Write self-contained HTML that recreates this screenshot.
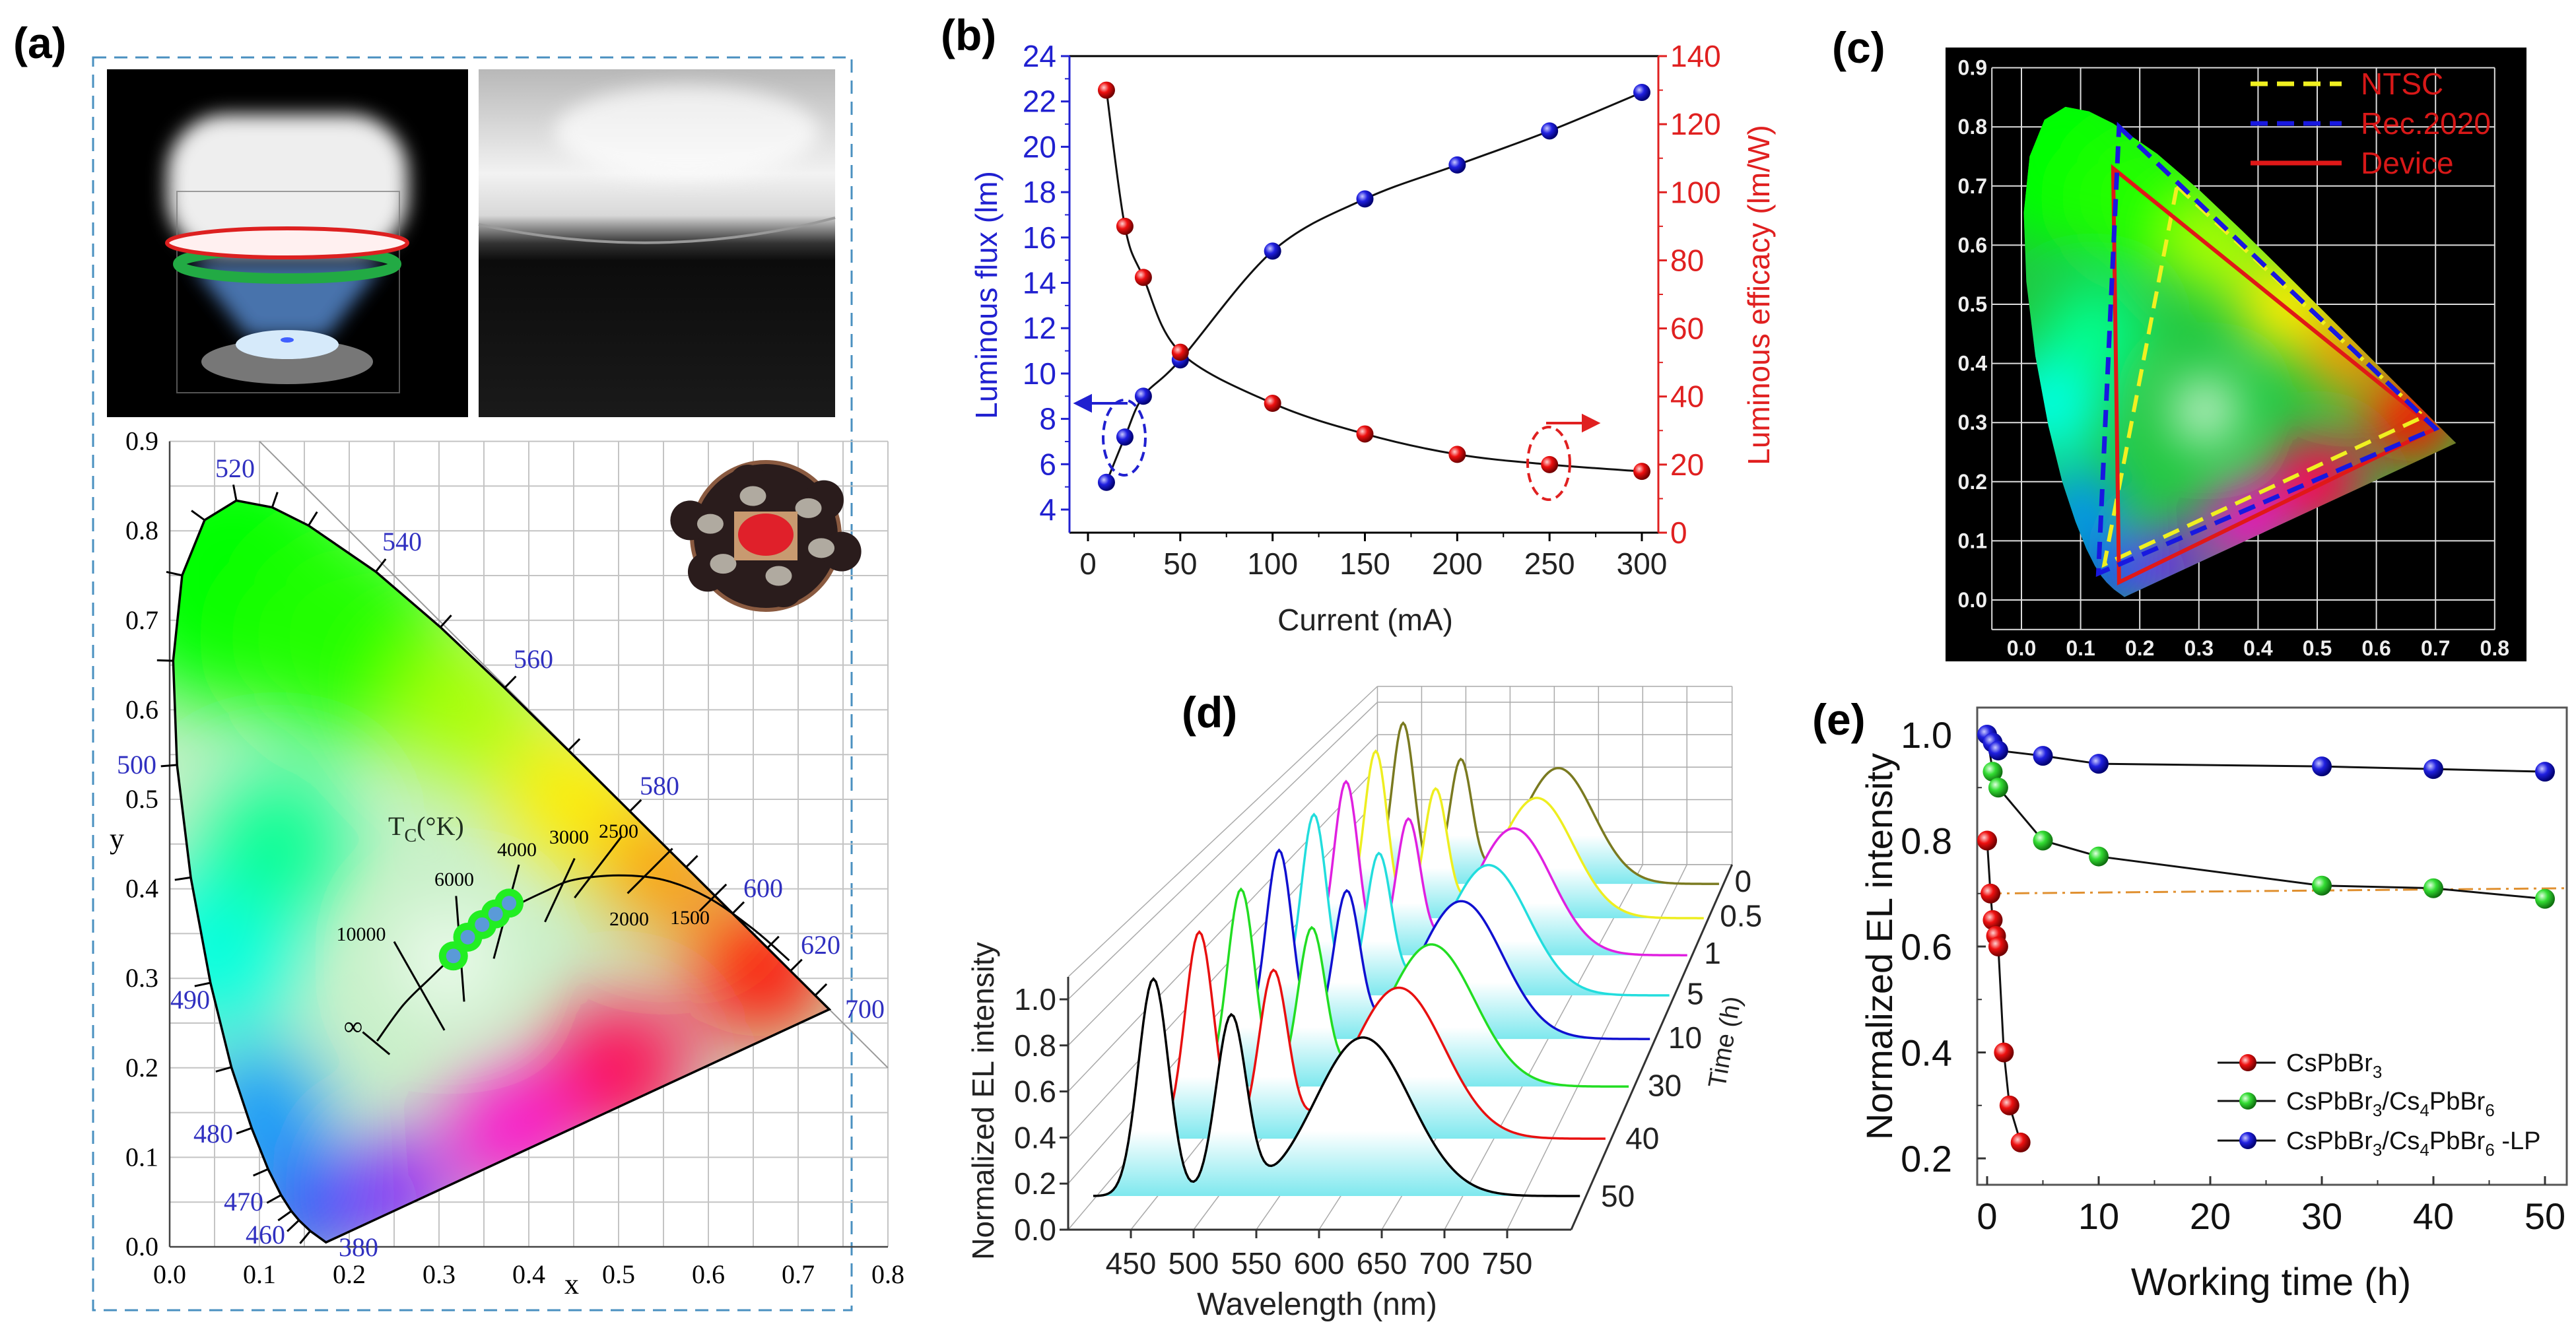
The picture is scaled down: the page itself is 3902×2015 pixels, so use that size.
<!DOCTYPE html>
<html><head><meta charset="utf-8">
<style>
html,body{margin:0;padding:0;background:#fff;}
svg{display:block;}
text{font-family:"Liberation Sans",sans-serif;}
.serif{font-family:"Liberation Serif",serif;}
.narrow{font-family:"Liberation Sans Narrow","Liberation Sans",sans-serif;font-weight:bold;}
</style></head>
<body>
<svg id="fig" xmlns="http://www.w3.org/2000/svg" width="3902" height="2015" viewBox="0 0 3902 2015">
<defs>
<radialGradient id="sBlue" cx="35%" cy="35%" r="65%"><stop offset="0" stop-color="#c8c8ff"/><stop offset="0.45" stop-color="#2020e0"/><stop offset="1" stop-color="#000070"/></radialGradient>
<radialGradient id="sRed" cx="35%" cy="35%" r="65%"><stop offset="0" stop-color="#ffd0d0"/><stop offset="0.45" stop-color="#ee1010"/><stop offset="1" stop-color="#700000"/></radialGradient>
<radialGradient id="sGreen" cx="35%" cy="35%" r="65%"><stop offset="0" stop-color="#e0ffe0"/><stop offset="0.45" stop-color="#33dd33"/><stop offset="1" stop-color="#107010"/></radialGradient>
<linearGradient id="specFill" x1="0" y1="0" x2="0" y2="1"><stop offset="0" stop-color="#ffffff"/><stop offset="0.7" stop-color="#ffffff"/><stop offset="1" stop-color="#7ee8ee"/></linearGradient>
<filter id="blurA" x="-50%" y="-50%" width="200%" height="200%"><feGaussianBlur stdDeviation="60"/></filter>
<filter id="blurC" x="-50%" y="-50%" width="200%" height="200%"><feGaussianBlur stdDeviation="40"/></filter>
<filter id="blurS" x="-50%" y="-50%" width="200%" height="200%"><feGaussianBlur stdDeviation="14"/></filter>
<linearGradient id="photoR" x1="0" y1="0" x2="0" y2="1"><stop offset="0" stop-color="#b8b8b8"/><stop offset="0.3" stop-color="#f2f2f2"/><stop offset="0.42" stop-color="#d8d8d8"/><stop offset="0.5" stop-color="#333"/><stop offset="0.55" stop-color="#0c0c0c"/><stop offset="1" stop-color="#1a1a1a"/></linearGradient>
</defs>
</svg>
<script>
const NS='http://www.w3.org/2000/svg';
const svg=document.getElementById('fig');
const defs=svg.querySelector('defs');
function mk(tag,attrs,parent){const e=document.createElementNS(NS,tag);for(const k in attrs)e.setAttribute(k,attrs[k]);(parent||svg).appendChild(e);return e;}
function txt(str,attrs,parent){const e=mk('text',attrs,parent);e.textContent=str;return e;}
function smooth(p){let d='M'+p[0][0]+','+p[0][1];for(let i=0;i<p.length-1;i++){const p0=p[i-1]||p[i],p1=p[i],p2=p[i+1],p3=p[i+2]||p2;const c1=[p1[0]+(p2[0]-p0[0])/6,p1[1]+(p2[1]-p0[1])/6],c2=[p2[0]-(p3[0]-p1[0])/6,p2[1]-(p3[1]-p1[1])/6];d+='C'+c1[0]+','+c1[1]+' '+c2[0]+','+c2[1]+' '+p2[0]+','+p2[1];}return d;}

/* ===== shared CIE data ===== */
const cieWl=[380,450,460,465,470,475,480,485,490,495,500,505,510,515,520,525,530,540,550,560,570,580,590,600,610,620,640,700];
const cieX=[0.1741,0.1566,0.1440,0.1355,0.1241,0.1096,0.0913,0.0687,0.0454,0.0235,0.0082,0.0039,0.0139,0.0389,0.0743,0.1142,0.1547,0.2296,0.3016,0.3731,0.4441,0.5125,0.5752,0.6270,0.6658,0.6915,0.7190,0.7347];
const cieY=[0.0050,0.0177,0.0297,0.0399,0.0578,0.0868,0.1327,0.2007,0.2950,0.4127,0.5384,0.6548,0.7502,0.8120,0.8338,0.8262,0.8059,0.7543,0.6923,0.6245,0.5547,0.4866,0.4242,0.3725,0.3340,0.3083,0.2809,0.2653];
const blobX=[0.07,0.2,0.33,0.45,0.55,0.66,0.5,0.38,0.25,0.15,0.1,0.05,0.12,0.31];
const blobY=[0.75,0.68,0.6,0.5,0.42,0.31,0.2,0.13,0.06,0.04,0.15,0.33,0.45,0.32];
const blobC=['#00ff00','#22ff00','#aaff00','#ffee00','#ff9900','#ff1000','#ff0050','#ff00cc','#8000ff','#0040ff','#0090ff','#00ffe0','#00ff90','#ffffff'];
const blobR=[0.15,0.12,0.08,0.08,0.07,0.08,0.08,0.07,0.06,0.06,0.07,0.09,0.08,0.05];
function locusD(X,Y){let d='';for(let i=0;i<cieWl.length;i++)d+=(i?'L':'M')+X(cieX[i])+','+Y(cieY[i]);return d+'Z';}
function paintCIE(parent,X,Y,id,filt,unit,base){
  const cp=mk('clipPath',{id:id},defs);
  mk('path',{d:locusD(X,Y)},cp);
  const g=mk('g',{'clip-path':'url(#'+id+')'},parent);
  
  
  mk('rect',{x:X(-0.1),y:Y(1),width:unit*1.1,height:unit*1.1,fill:base},g);
  const bg=mk('g',{filter:'url(#'+filt+')'},g);
  for(let i=0;i<blobX.length;i++){mk('circle',{cx:X(blobX[i]),cy:Y(blobY[i]),r:blobR[i]*unit,fill:blobC[i]},bg);}
  return g;
}

/* ===== PANEL A ===== */
const gA=mk('g',{});


let e=txt('(a)',{x:20,y:88,'font-size':66,'font-weight':'bold'},gA);


e=mk('rect',{x:141,y:87,width:1149,height:1898,fill:'none',stroke:'#4a90c0','stroke-width':3,'stroke-dasharray':'20 12'},gA);


const ph1=mk('g',{},gA);


mk('rect',{x:162,y:105,width:547,height:527,fill:'#000'},ph1);
mk('rect',{x:253,y:173,width:365,height:215,rx:90,fill:'#eeeeee',filter:'url(#blurS)'},ph1);
mk('rect',{x:268,y:290,width:337,height:305,fill:'none',stroke:'#777','stroke-width':2,opacity:0.7},ph1);
mk('path',{d:'M290,400 L580,400 L495,510 L375,510 Z',fill:'#5a90d8',opacity:0.8,filter:'url(#blurS)'},ph1);
mk('ellipse',{cx:435,cy:400,rx:165,ry:22,fill:'none',stroke:'#22aa44','stroke-width':16},ph1);
mk('ellipse',{cx:435,cy:368,rx:182,ry:22,fill:'#fff0f0',stroke:'#dd2020','stroke-width':6},ph1);
mk('ellipse',{cx:435,cy:548,rx:130,ry:34,fill:'#777'},ph1);
mk('ellipse',{cx:435,cy:522,rx:78,ry:22,fill:'#d6eafa'},ph1);
mk('ellipse',{cx:435,cy:515,rx:10,ry:4,fill:'#4060ff'},ph1);
const ph2=mk('g',{},gA);


mk('rect',{x:725,y:105,width:540,height:527,fill:'url(#photoR)'},ph2);
mk('ellipse',{cx:1040,cy:200,rx:200,ry:70,fill:'#ffffff',opacity:0.7,filter:'url(#blurS)'},ph2);
mk('path',{d:'M725,340 Q1000,400 1265,330',stroke:'#999','stroke-width':4,fill:'none'},ph2);

const ax=x=>257+x*1360, ay=y=>1889-y*1356;
const cieG=mk('g',{},gA);


for(let i=0;i<=16;i++){const v=i*0.05;const l=mk('line',{x1:ax(v),y1:ay(0),x2:ax(v),y2:ay(0.9),stroke:'#c4c4c4','stroke-width':2},cieG);}
for(let i=0;i<=18;i++){const v=i*0.05;const l=mk('line',{x1:ax(0),y1:ay(v),x2:ax(0.8),y2:ay(v),stroke:'#c4c4c4','stroke-width':2},cieG);}
e=mk('line',{x1:ax(0.1),y1:ay(0.9),x2:ax(0.8),y2:ay(0.2),stroke:'#999','stroke-width':2},cieG);


mk('line',{x1:ax(0),y1:ay(0),x2:ax(0),y2:ay(0.9),stroke:'#444','stroke-width':2.5},cieG);
mk('line',{x1:ax(0),y1:ay(0),x2:ax(0.8),y2:ay(0),stroke:'#444','stroke-width':2.5},cieG);
const aTicks=[0,0.1,0.2,0.3,0.4,0.5,0.6,0.7,0.8];
const aYTicks=[0,0.1,0.2,0.3,0.4,0.5,0.6,0.7,0.8,0.9];
aTicks.forEach(v=>{const t=txt(v.toFixed(1),{x:ax(v),y:1944,'font-size':40,'text-anchor':'middle',class:'serif'},cieG);});
aYTicks.forEach(v=>{const t=txt(v.toFixed(1),{x:240,y:ay(v)+13,'font-size':40,'text-anchor':'end',class:'serif'},cieG);});
e=txt('x',{x:866,y:1960,'font-size':44,'text-anchor':'middle',class:'serif'},cieG);


e=txt('y',{x:177,y:1285,'font-size':44,'text-anchor':'middle',class:'serif'},cieG);


paintCIE(cieG,ax,ay,'clipA','blurA',1360,'#c8f0c8');
e=mk('path',{d:locusD(ax,ay),fill:'none',stroke:'#000','stroke-width':3.5},cieG);


for(let i=1;i<cieWl.length-1;i++){const dx=cieX[i+1]-cieX[i-1],dy=cieY[i+1]-cieY[i-1];const L=Math.hypot(dx,dy);const nx=dy/L,ny=-dx/L;const t=mk('line',{x1:ax(cieX[i]),y1:ay(cieY[i]),x2:ax(cieX[i]-nx*0.018),y2:ay(cieY[i]-ny*0.018),stroke:'#000','stroke-width':3},cieG);}
const wlLabels=['520','540','560','580','600','620','700','500','490','480','470','460','380'];
const wlLabX=[356,609,808,999,1156,1243,1310,207,288,323,369,402,543];
const wlLabY=[723,834,1012,1204,1359,1445,1542,1172,1528,1731,1834,1884,1903];
wlLabels.forEach((s,i)=>{const t=txt(s,{x:wlLabX[i],y:wlLabY[i],'font-size':40,'text-anchor':'middle',fill:'#3030c0',class:'serif'},cieG);});
const plX=[0.231,0.26,0.29,0.316,0.35,0.38,0.42,0.45,0.5,0.55,0.6,0.65,0.69];
const plY=[0.23,0.27,0.30,0.325,0.355,0.378,0.398,0.41,0.415,0.41,0.39,0.355,0.32];
e=mk('path',{d:smooth(plX.map((x,i)=>[ax(x),ay(plY[i])])),fill:'none',stroke:'#000','stroke-width':3},cieG);


mk('line',{x1:ax(0.215),y1:ay(0.24),x2:ax(0.245),y2:ay(0.215),stroke:'#000','stroke-width':3},cieG);
const isoX1=[0.25,0.319,0.389,0.451,0.503,0.56,0.62],isoY1=[0.341,0.392,0.427,0.434,0.458,0.445,0.405];
const isoX2=[0.306,0.328,0.361,0.418,0.451,0.51,0.59],isoY2=[0.242,0.274,0.322,0.363,0.39,0.395,0.375];
isoX1.forEach((x,i)=>{const t=mk('line',{x1:ax(x),y1:ay(isoY1[i]),x2:ax(isoX2[i]),y2:ay(isoY2[i]),stroke:'#000','stroke-width':3},cieG);});
const tLab=['10000','6000','4000','3000','2500','2000','1500'];
const tLabX=[547,688,783,862,937,953,1045],tLabY=[1425,1342,1297,1278,1269,1402,1400];
tLab.forEach((s,i)=>{const t=txt(s,{x:tLabX[i],y:tLabY[i],'font-size':30,'text-anchor':'middle',class:'serif'},cieG);});
e=txt('∞',{x:535,y:1568,'font-size':40,'text-anchor':'middle',class:'serif'},cieG);


e=txt('',{x:588,y:1265,'font-size':40,class:'serif',fill:'#203020'},cieG);


let ts=mk('tspan',{},e);ts.textContent='T';ts=mk('tspan',{dy:10,'font-size':28},e);ts.textContent='C';ts=mk('tspan',{dy:-10},e);ts.textContent='(°K)';
const ptX=[0.316,0.332,0.348,0.363,0.378],ptY=[0.325,0.346,0.36,0.372,0.384];
ptX.forEach((x,i)=>{const c=mk('circle',{cx:ax(x),cy:ay(ptY[i]),r:22,fill:'#22ee22'},cieG);});
ptX.forEach((x,i)=>{mk('circle',{cx:ax(x),cy:ay(ptY[i]),r:11,fill:'#5a9ad8'},cieG);});
const led=mk('g',{},gA);


mk('circle',{cx:1160,cy:812,r:112,fill:'#2a1c1c',stroke:'#8a5a40','stroke-width':6},led);
for(let i=0;i<6;i++){const a=i*Math.PI/3+0.3;mk('circle',{cx:1160+Math.cos(a)*120,cy:812+Math.sin(a)*80,r:30,fill:'#2a1c1c'},led);mk('ellipse',{cx:1160+Math.cos(a)*88,cy:812+Math.sin(a)*62,rx:20,ry:15,fill:'#b0aaa0'},led);}
mk('rect',{x:1112,y:775,width:96,height:74,fill:'#c89a70'},led);
mk('ellipse',{cx:1160,cy:810,rx:42,ry:32,fill:'#e0202a'},led);

/* ===== PANEL B ===== */
const bCurrent=[10,20,30,50,100,150,200,250,300];
const bFlux=[5.2,7.2,9.0,10.6,15.4,17.7,19.2,20.7,22.4];
const bEff=[130,90,75,53,38,29,23,20,18];
const bXTicks=[0,50,100,150,200,250,300];
const bYLTicks=[4,6,8,10,12,14,16,18,20,22,24];
const bYRTicks=[0,20,40,60,80,100,120,140];
const bx=v=>1648+v*(2487-1648)/300, byL=v=>772-(v-4)*(772-85)/20, byR=v=>807-v*(807-85)/140;
const gB=mk('g',{});


e=txt('(b)',{x:1425,y:76,'font-size':66,'font-weight':'bold'},gB);


mk('line',{x1:1620,y1:85,x2:2512,y2:85,stroke:'#000','stroke-width':3},gB);
mk('line',{x1:1620,y1:807,x2:2512,y2:807,stroke:'#000','stroke-width':3},gB);
e=mk('line',{x1:1620,y1:85,x2:1620,y2:807,stroke:'#2020d0','stroke-width':3},gB);


e=mk('line',{x1:2512,y1:85,x2:2512,y2:807,stroke:'#e02020','stroke-width':3},gB);


bXTicks.forEach(v=>{mk('line',{x1:bx(v),y1:807,x2:bx(v),y2:820,stroke:'#000','stroke-width':3},gB);if(v<300)mk('line',{x1:bx(v+25),y1:807,x2:bx(v+25),y2:814,stroke:'#000','stroke-width':2},gB);const t=txt(String(v),{x:bx(v),y:870,'font-size':46,'text-anchor':'middle',fill:'#222'},gB);});
bYLTicks.forEach(v=>{mk('line',{x1:1607,y1:byL(v),x2:1620,y2:byL(v),stroke:'#2020d0','stroke-width':3},gB);if(v<24)mk('line',{x1:1613,y1:byL(v+1),x2:1620,y2:byL(v+1),stroke:'#2020d0','stroke-width':2},gB);const t=txt(String(v),{x:1600,y:byL(v)+16,'font-size':46,'text-anchor':'end',fill:'#2020d0'},gB);});
bYRTicks.forEach(v=>{mk('line',{x1:2512,y1:byR(v),x2:2525,y2:byR(v),stroke:'#e02020','stroke-width':3},gB);if(v<140)mk('line',{x1:2512,y1:byR(v+10),x2:2519,y2:byR(v+10),stroke:'#e02020','stroke-width':2},gB);const t=txt(String(v),{x:2530,y:byR(v)+16,'font-size':46,fill:'#e02020'},gB);});
e=txt('Current (mA)',{x:2068,y:955,'font-size':46,'text-anchor':'middle',fill:'#222'},gB);


e=txt('Luminous flux (lm)',{x:0,y:0,'font-size':46,'text-anchor':'middle',fill:'#2020d0',transform:'translate(1510,447) rotate(-90)'},gB);


e=txt('Luminous efficacy (lm/W)',{x:0,y:0,'font-size':46,'text-anchor':'middle',fill:'#e02020',transform:'translate(2680,447) rotate(-90)'},gB);


e=mk('path',{d:smooth(bCurrent.map((c,i)=>[bx(c),byL(bFlux[i])])),fill:'none',stroke:'#111','stroke-width':3},gB);


e=mk('path',{d:smooth(bCurrent.map((c,i)=>[bx(c),byR(bEff[i])])),fill:'none',stroke:'#111','stroke-width':3},gB);


bCurrent.forEach((c,i)=>{const m=mk('circle',{cx:bx(c),cy:byL(bFlux[i]),r:13,fill:'url(#sBlue)'},gB);});
bCurrent.forEach((c,i)=>{const m=mk('circle',{cx:bx(c),cy:byR(bEff[i]),r:13,fill:'url(#sRed)'},gB);});
e=mk('ellipse',{cx:1703,cy:663,rx:32,ry:57,fill:'none',stroke:'#2020d0','stroke-width':4,'stroke-dasharray':'14 8'},gB);


e=mk('path',{d:'M1708,611 L1645,611 M1630,611 L1652,600 L1652,622 Z',stroke:'#2020d0','stroke-width':4,fill:'#2020d0'},gB);


e=mk('ellipse',{cx:2346,cy:702,rx:32,ry:55,fill:'none',stroke:'#e02020','stroke-width':4,'stroke-dasharray':'14 8'},gB);


e=mk('path',{d:'M2342,641 L2405,641 M2420,641 L2398,630 L2398,652 Z',stroke:'#e02020','stroke-width':4,fill:'#e02020'},gB);



/* ===== PANEL C ===== */
const cx=v=>3062+v*896, cy=v=>909-v*896;
const gC=mk('g',{});


e=txt('(c)',{x:2775,y:95,'font-size':66,'font-weight':'bold'},gC);


e=mk('rect',{x:2947,y:72,width:880,height:930,fill:'#000'},gC);


const cXT=[0,0.1,0.2,0.3,0.4,0.5,0.6,0.7,0.8], cYT=[0,0.1,0.2,0.3,0.4,0.5,0.6,0.7,0.8,0.9];
mk('line',{x1:cx(-0.05),y1:cy(0.9),x2:cx(-0.05),y2:cy(-0.05),stroke:'#ddd','stroke-width':2},gC);
mk('line',{x1:cx(-0.05),y1:cy(-0.05),x2:cx(0.8),y2:cy(-0.05),stroke:'#ddd','stroke-width':2},gC);
cXT.forEach(v=>{const l=mk('line',{x1:cx(v),y1:cy(0.9),x2:cx(v),y2:cy(-0.05),stroke:'#ddd','stroke-width':2},gC);const t=txt(v.toFixed(1),{x:cx(v),y:993,'font-size':32,'text-anchor':'middle',fill:'#eee',class:'narrow'},gC);});
cYT.forEach(v=>{const l=mk('line',{x1:cx(-0.05),y1:cy(v),x2:cx(0.8),y2:cy(v),stroke:'#ddd','stroke-width':2},gC);const t=txt(v.toFixed(1),{x:3010,y:cy(v)+11,'font-size':32,'text-anchor':'end',fill:'#eee',class:'narrow'},gC);});
paintCIE(gC,cx,cy,'clipC','blurC',896,'#20c840');
const ntscX=[0.263,0.68,0.14], ntscY=[0.70,0.31,0.06];
const recX=[0.165,0.70,0.13], recY=[0.80,0.29,0.045];
const devX=[0.155,0.70,0.165], devY=[0.73,0.29,0.03];
function tri(X,Y){return 'M'+X.map((x,i)=>cx(x)+','+cy(Y[i])).join('L')+'Z';}
e=mk('path',{d:tri(ntscX,ntscY),fill:'none',stroke:'#f0f020','stroke-width':6,'stroke-dasharray':'26 14'},gC);


e=mk('path',{d:tri(devX,devY),fill:'none',stroke:'#e01818','stroke-width':6},gC);


e=mk('path',{d:tri(recX,recY),fill:'none',stroke:'#1818e0','stroke-width':7,'stroke-dasharray':'26 14'},gC);


const cLegNames=['NTSC','Rec.2020','Device'], cLegCol=['#f0f020','#1818e0','#e01818'], cLegDash=['26 14','26 14','none'];
cLegNames.forEach((n,i)=>{const y=127+i*60;const l=mk('line',{x1:3409,y1:y,x2:3547,y2:y,stroke:cLegCol[i],'stroke-width':7,'stroke-dasharray':cLegDash[i]},gC);const t=txt(n,{x:3576,y:y+16,'font-size':46,fill:'#d81818'},gC);});

/* ===== PANEL D ===== */
const dTimes=['50','40','30','10','5','1','0.5','0'];
const dColors=['#000000','#e81010','#22dd22','#1010d0','#22dddd','#e020e0','#eeee20','#7a7a20'];
const dBluePk=[1,1,1,1,1,1,1,1];
const dGreenPk=[0.82,0.80,0.79,0.77,0.77,0.77,0.76,0.76];
const dRedPk=[0.73,0.73,0.72,0.73,0.72,0.73,0.72,0.72];
const dPeakWl=[468,530,635], dPeakSig=[12,12,38];
const dXTicks=[450,500,550,600,650,700,750];
const dYTicks=[0,0.2,0.4,0.6,0.8,1.0];
const VX=3206,VY=-12;
const P=(fx,fy,s)=>[VX+(fx-VX)*s,VY+(fy-VY)*s];
const fxw=w=>1618+(w-400)*1.9, fyI=v=>1863-v*349;
const gD=mk('g',{});


e=txt('(d)',{x:1790,y:1102,'font-size':66,'font-weight':'bold'},gD);


const SB=0.705;
const gridG=mk('g',{stroke:'#aaa','stroke-width':1.5,fill:'none'},gD);


function ln(a,b,par,attrs){return mk('line',Object.assign({x1:a[0],y1:a[1],x2:b[0],y2:b[1]},attrs||{}),par);}
ln(P(1618,1863,SB),P(2380,1863,SB),gridG);ln(P(1618,1480,SB),P(2380,1480,SB),gridG);
ln(P(1618,1863,SB),P(1618,1480,SB),gridG);ln(P(2380,1863,SB),P(2380,1480,SB),gridG);
dXTicks.forEach(w=>{ln(P(fxw(w),1863,SB),P(fxw(w),1480,SB),gridG);ln(P(fxw(w),1863,1),P(fxw(w),1863,SB),gridG);});
dYTicks.forEach(v=>{ln(P(1618,fyI(v),SB),P(2380,fyI(v),SB),gridG);ln(P(1618,fyI(v),1),P(1618,fyI(v),SB),gridG);});
ln(P(1618,1480,1),P(1618,1480,SB),gridG);
function specVal(k,w){const pk=[dBluePk[k],dGreenPk[k],dRedPk[k]];let s=0;for(let j=0;j<3;j++)s+=pk[j]*Math.exp(-Math.pow(w-dPeakWl[j],2)/(2*dPeakSig[j]*dPeakSig[j]));return s;}
for(let k=dTimes.length-1;k>=0;k--){
  const s=1/(1+0.05*k);const pts=[];
  for(let w=420;w<=808;w+=2){pts.push(P(fxw(w),1812-specVal(k,w)*329,s));}
  const b1=P(fxw(808),1812,s),b0=P(fxw(420),1812,s);
  const f=mk('path',{d:'M'+pts.map(p=>p[0]+','+p[1]).join('L')+'L'+b1[0]+','+b1[1]+'L'+b0[0]+','+b0[1]+'Z',fill:'url(#specFill)',stroke:'none'},gD);
  
  
  const c=mk('path',{d:'M'+pts.map(p=>p[0]+','+p[1]).join('L'),fill:'none',stroke:dColors[k],'stroke-width':3.5},gD);
  
  
  const lp=P(2425,1828,s);
  const t=txt(dTimes[k],{x:lp[0],y:lp[1],'font-size':46,fill:'#222'},gD);
  
  
}
e=ln([1618,1863],[1618,1480],gD,{stroke:'#333','stroke-width':3});


e=ln([1618,1863],[2380,1863],gD,{stroke:'#333','stroke-width':3});


e=ln([2380,1863],P(2380,1863,SB),gD,{stroke:'#333','stroke-width':3});


dXTicks.forEach(w=>{ln([fxw(w),1863],[fxw(w),1876],gD,{stroke:'#333','stroke-width':3});const t=txt(String(w),{x:fxw(w),y:1930,'font-size':46,'text-anchor':'middle',fill:'#222'},gD);});
dYTicks.forEach(v=>{ln([1605,fyI(v)],[1618,fyI(v)],gD,{stroke:'#333','stroke-width':3});const t=txt(v.toFixed(1),{x:1600,y:fyI(v)+16,'font-size':46,'text-anchor':'end',fill:'#222'},gD);});
e=txt('Wavelength (nm)',{x:1995,y:1992,'font-size':48,'text-anchor':'middle',fill:'#222'},gD);


e=txt('Normalized EL intensity',{x:0,y:0,'font-size':46,'text-anchor':'middle',fill:'#222',transform:'translate(1505,1668) rotate(-90)'},gD);


e=txt('Time (h)',{x:0,y:0,'font-size':38,'text-anchor':'middle',fill:'#222',transform:'translate(2625,1581) rotate(-80)'},gD);



/* ===== PANEL E ===== */
const eRedT=[0,0.3,0.5,0.8,1,1.5,2,3];
const eRedV=[0.80,0.70,0.65,0.62,0.60,0.40,0.30,0.23];
const eGreenT=[0,0.5,1,5,10,30,40,50];
const eGreenV=[1.0,0.93,0.90,0.80,0.77,0.715,0.71,0.69];
const eBlueT=[0,0.5,1,5,10,30,40,50];
const eBlueV=[1.0,0.985,0.97,0.96,0.945,0.94,0.935,0.93];
const eXTicks=[0,10,20,30,40,50];
const eYTicks=[0.2,0.4,0.6,0.8,1.0];
const ex=t=>3010+t*(3855-3010)/50, ey=v=>1755-(v-0.2)*(1755-1113)/0.8;
const gE=mk('g',{});


e=txt('(e)',{x:2745,y:1113,'font-size':66,'font-weight':'bold'},gE);


e=mk('rect',{x:2995,y:1072,width:893,height:723,fill:'none',stroke:'#555','stroke-width':3},gE);


eXTicks.forEach(v=>{ln([ex(v),1795],[ex(v),1782],gE,{stroke:'#333','stroke-width':3});if(v<50)ln([ex(v+5),1795],[ex(v+5),1788],gE,{stroke:'#333','stroke-width':2});const t=txt(String(v),{x:ex(v),y:1862,'font-size':56,'text-anchor':'middle',fill:'#111'},gE);});
eYTicks.forEach(v=>{ln([2995,ey(v)],[3008,ey(v)],gE,{stroke:'#333','stroke-width':3});if(v<1)ln([2995,ey(v+0.1)],[3002,ey(v+0.1)],gE,{stroke:'#333','stroke-width':2});const t=txt(v.toFixed(1),{x:2957,y:ey(v)+20,'font-size':56,'text-anchor':'end',fill:'#111'},gE);});
e=txt('Working time (h)',{x:3440,y:1962,'font-size':58,'text-anchor':'middle',fill:'#111'},gE);


e=txt('Normalized EL intensity',{x:0,y:0,'font-size':56,'text-anchor':'middle',fill:'#111',transform:'translate(2866,1434) rotate(-90)'},gE);


e=ln([ex(0),ey(0.70)],[3888,ey(0.71)],gE,{stroke:'#e09030','stroke-width':3,'stroke-dasharray':'22 8 4 8'});


const eSeries=[[eRedT,eRedV,'url(#sRed)','cspbbr3'],[eGreenT,eGreenV,'url(#sGreen)','cspbbr3-cs4pbbr6'],[eBlueT,eBlueV,'url(#sBlue)','cspbbr3-cs4pbbr6-lp']];
eSeries.forEach(S=>{const l=mk('polyline',{points:S[0].map((t,i)=>ex(t)+','+ey(S[1][i])).join(' '),fill:'none',stroke:'#111','stroke-width':3},gE);});
eSeries.forEach(S=>{S[0].forEach((t,i)=>{if(S[3]==='cspbbr3-cs4pbbr6'&&i===0)return;const m=mk('circle',{cx:ex(t),cy:ey(S[1][i]),r:15,fill:S[2]},gE);});});
const legY=[1610,1668,1728], legF=['url(#sRed)','url(#sGreen)','url(#sBlue)'];
const legParts=[[['CsPbBr',0],['3',1]],[['CsPbBr',0],['3',1],['/Cs',0],['4',1],['PbBr',0],['6',1]],[['CsPbBr',0],['3',1],['/Cs',0],['4',1],['PbBr',0],['6',1],[' -LP',0]]];
legY.forEach((y,i)=>{const lg=mk('g',{},gE);ln([3359,y],[3447,y],lg,{stroke:'#111','stroke-width':3});mk('circle',{cx:3405,cy:y,r:13,fill:legF[i]},lg);const t=txt('',{x:3463,y:y+13,'font-size':38,fill:'#111'},lg);let sub=false;legParts[i].forEach(p=>{const s=mk('tspan',{},t);if(p[1]&&!sub){s.setAttribute('dy',10);s.setAttribute('font-size',26);sub=true;}else if(!p[1]&&sub){s.setAttribute('dy',-10);sub=false;}else if(p[1]){s.setAttribute('font-size',26);}s.textContent=p[0];});});
</script>
</body></html>
